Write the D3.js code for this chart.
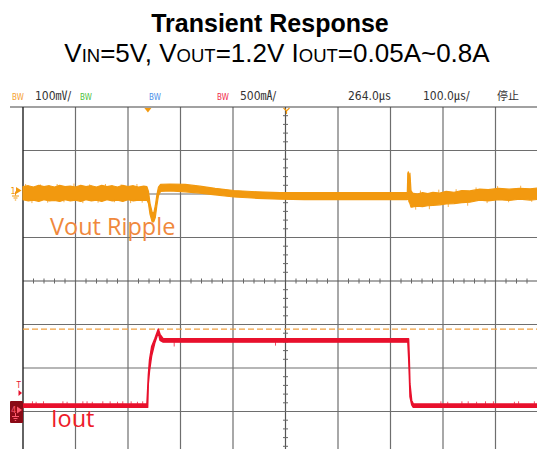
<!DOCTYPE html>
<html><head><meta charset="utf-8">
<script src="https://cdn.jsdelivr.net/npm/d3@7"></script>
<style>
html,body{margin:0;padding:0;background:#fff;}
svg{display:block;}
</style></head><body>
<svg id="chart" width="537" height="449"></svg>
<script>
// Scope settings: time in µs from the trigger (100 µs/div, 264 µs delay)
const timeRange = [-236, 764];
const ch1PerDiv = 100;   // mV/div, Vout (AC view around 1.2 V)
const ch4PerDiv = 0.5;   // A/div, Iout
const triggerLevel = 0.93; // A

// Header readouts
const headerLabels = ["BW", "100㎷/", "BW", "BW", "BW", "500㎃/", "264.0㎲", "100.0㎲/", "停止"];

// Vout deviation band: time (µs), upper and lower edge (mV)
const voutT  = [-236,-226,-216,-206,-196,-186,-176,-166,-156,-146,-136,-126,-116,-106,-96,-86,-76,-66,-56,-46,-36,-26,-16,-6,0,
                3,6,10,13,16,19,22,26,
                44,73,101,130,166,210,254,300,350,400,450,496,
                497,498,499,501,503,
                506,515,525,535,545,558,570,585,600,615,634,650,670,690,710,730,750,764];
const voutHi = [9,11,8,12,9,11,8,12,9,10,8,12,9,11,8,12,9,11,8,12,9,11,8,10,9,
                -2,-30,-50,-52,-35,-10,8,14,
                15,14,10,5,0,-3,-5,-5,-5,-5,-5,-5,
                40,43,20,40,0,
                -6,-8,-5,-7,-4,-6,-2,-4,0,-1,3,2,5,3,5,4,6,5];
const voutLo = [-21,-24,-22,-25,-21,-24,-23,-25,-21,-24,-22,-25,-21,-24,-22,-25,-21,-24,-22,-25,-21,-24,-22,-23,-22,
                -30,-55,-72,-72,-62,-35,-12,-2,
                -1,-3,-6,-10,-15,-18,-20,-21,-21,-21,-21,-21,
                -20,-10,-25,-30,-38,
                -38,-36,-37,-35,-34,-33,-31,-30,-28,-27,-22,-24,-21,-23,-20,-22,-20,-21];

// Vout noise spikes: time (µs), from (mV), to (mV)
const vSpikeT = [-231,-219,-203,-189,-171,-158,-139,-122,-109,-93,-79,-62,-49,-31,-19,-9,
                 512,521,538,556,574,589,611,627,648,668,689,712,733,752];
const vSpikeA = [8,-21,8,-21,8,-21,8,-21,8,-21,8,-21,8,-21,8,-21,
                 -34,-8,-34,-5,-30,-4,-28,0,-22,3,-21,4,-20,5];
const vSpikeB = [15,-29,14,-28,15,-27,16,-29,14,-28,15,-27,14,-29,15,-28,
                 -44,0,-43,2,-38,3,-35,7,-29,10,-27,11,-26,12];

// Iout band: time (µs), upper and lower edge (A)
const ioutT  = [-236,0,1.5,2.7,5,9,15,21.7,25,31,497,498.5,499.8,501.1,504.4,507.4,764];
const ioutHi = [0.07,0.07,0.25,0.40,0.58,0.73,0.82,0.93,0.87,0.82,0.82,0.82,0.60,0.30,0.11,0.07,0.07];
const ioutLo = [0.03,0.03,0.03,0.30,0.45,0.62,0.77,0.89,0.80,0.78,0.78,0.60,0.40,0.15,0.06,0.03,0.03];

// Iout noise spikes: time (µs), from (A), to (A)
const iSpikeT = [-218,-211,-197,-160,-152,-122,-114,-104,-84,-70,-56,-46,-30,-18,-8,52,245,
                 560,573,600,612,628,645,660,700,708,738];
const iSpikeA = [0.07,0.07,0.07,0.07,0.07,0.07,0.07,0.07,0.07,0.07,0.07,0.07,0.07,0.07,0.07,0.78,0.78,
                 0.07,0.07,0.07,0.07,0.07,0.07,0.07,0.07,0.07,0.07];
const iSpikeB = [0.10,0.095,0.10,0.10,0.095,0.10,0.10,0.095,0.10,0.10,0.095,0.10,0.10,0.095,0.10,0.73,0.74,
                 0.10,0.095,0.10,0.10,0.095,0.10,0.10,0.095,0.10,0.10];

const titleText = "Transient Response";
const subtitleParts = [["V",0],["IN",1],["=5V, ",0],["V",0],["OUT",1],["=1.2V ",0],["I",0],["OUT",1],["=0.05A~0.8A",0]];

// ---- layout ----
const W = 537, H = 449;
const gLeft = 23, gTop = 107, divX = 52.5, divY = 43.5;
const ORANGE = "#f2990f", RED = "#e8102c";

const svg = d3.select("#chart");
svg.append("rect").attr("width", W).attr("height", H).attr("fill", "#fff");

const xT = d3.scaleLinear().domain(timeRange).range([gLeft, gLeft + 10 * divX]);
const yDiv = d3.scaleLinear().domain([0, 8]).range([gTop, gTop + 8 * divY]);
const yV = d3.scaleLinear().domain([0, ch1PerDiv]).range([190.5, 190.5 - divY]);
const yI = d3.scaleLinear().domain([0, ch4PerDiv]).range([410, 410 - divY]);

// ---- graticule ----
const grid = svg.append("g");
const vTimes = d3.range(timeRange[0] + 100, timeRange[1], 100);
grid.selectAll(".gv").data(vTimes).join("line")
  .attr("x1", d => xT(d)).attr("x2", d => xT(d))
  .attr("y1", gTop).attr("y2", H)
  .attr("stroke", (d, i) => i === 4 ? "#555" : "#6e6e6e").attr("stroke-width", 1.2);
grid.selectAll(".gh").data(d3.range(1, 8)).join("line")
  .attr("x1", gLeft).attr("x2", W)
  .attr("y1", d => yDiv(d)).attr("y2", d => yDiv(d))
  .attr("stroke", (d) => d === 4 ? "#555" : "#6e6e6e").attr("stroke-width", 1.2);
// top rule and left border
grid.append("line").attr("x1", 10).attr("x2", W).attr("y1", gTop).attr("y2", gTop)
  .attr("stroke", "#444").attr("stroke-width", 1.2);
grid.append("line").attr("x1", gLeft).attr("x2", gLeft).attr("y1", gTop).attr("y2", H)
  .attr("stroke", "#222").attr("stroke-width", 1.4);

// minor ticks on the centre lines
const cx = xT(264), cy = yDiv(4);
const minorX = d3.range(timeRange[0], timeRange[1], 20).filter(t => (t - timeRange[0]) % 100 !== 0);
grid.selectAll(".mx").data(minorX).join("line")
  .attr("x1", d => xT(d)).attr("x2", d => xT(d))
  .attr("y1", cy - 2.5).attr("y2", cy + 2.5)
  .attr("stroke", "#666").attr("stroke-width", 1);
const minorY = d3.range(0, 8, 0.2).filter(v => Math.abs(v - Math.round(v)) > 0.01);
grid.selectAll(".my").data(minorY).join("line")
  .attr("x1", cx - 2.5).attr("x2", cx + 2.5)
  .attr("y1", d => yDiv(d)).attr("y2", d => yDiv(d))
  .attr("stroke", "#666").attr("stroke-width", 1);

// trigger level
svg.append("line").attr("x1", gLeft).attr("x2", W)
  .attr("y1", yI(triggerLevel)).attr("y2", yI(triggerLevel))
  .attr("stroke", "#f0a040").attr("stroke-width", 1.2).attr("stroke-dasharray", "6,3");

// ---- traces ----
const vData = voutT.map((t, i) => ({t, hi: voutHi[i], lo: voutLo[i]}));
const iData = ioutT.map((t, i) => ({t, hi: ioutHi[i], lo: ioutLo[i]}));

svg.append("g").selectAll("line").data(vSpikeT).join("line")
  .attr("x1", d => xT(d)).attr("x2", d => xT(d))
  .attr("y1", (d, i) => yV(vSpikeA[i])).attr("y2", (d, i) => yV(vSpikeB[i]))
  .attr("stroke", "#f6b04a").attr("stroke-width", 1);

svg.append("path").datum(vData)
  .attr("d", d3.area().x(d => xT(d.t)).y0(d => yV(d.lo)).y1(d => yV(d.hi)))
  .attr("fill", ORANGE).attr("stroke", ORANGE).attr("stroke-width", 1.2).attr("stroke-linejoin", "round");

svg.append("g").selectAll("line").data(iSpikeT).join("line")
  .attr("x1", d => xT(d)).attr("x2", d => xT(d))
  .attr("y1", (d, i) => yI(iSpikeA[i])).attr("y2", (d, i) => yI(iSpikeB[i]))
  .attr("stroke", "#ef4a62").attr("stroke-width", 1);

svg.append("path").datum(iData)
  .attr("d", d3.area().x(d => xT(d.t)).y0(d => yI(d.lo)).y1(d => yI(d.hi)))
  .attr("fill", RED).attr("stroke", RED).attr("stroke-width", 1.4).attr("stroke-linejoin", "round");

// ---- markers ----
const mk = svg.append("g");
// trigger position
mk.append("path").attr("d", `M${xT(0) - 2.5},${gTop + 1} L${xT(0) + 4.5},${gTop + 1} L${xT(0) + 1},${gTop + 5.5} Z`)
  .attr("fill", ORANGE);
// delay marker at screen centre
mk.append("path").attr("d", `M${cx - 2},${gTop + 1} L${cx + 1},${gTop + 4} L${cx + 4},${gTop + 1} M${cx + 1},${gTop + 4} L${cx + 1},${gTop + 7}`)
  .attr("fill", "none").attr("stroke", ORANGE).attr("stroke-width", 1.2);

// channel 1 reference
const r1 = yV(0);
mk.append("text").attr("x", 10.5).attr("y", r1 + 3.5).text("1")
  .attr("font-family", "DejaVu Sans Condensed, DejaVu Sans").attr("font-size", 9).attr("fill", ORANGE);
mk.append("path").attr("d", `M16,${r1 - 3.5} L21.5,${r1} L16,${r1 + 3.5} Z`).attr("fill", ORANGE);
mk.append("path").attr("d", `M15.5,${r1 + 1} L15.5,${r1 + 5} M12,${r1 + 5.5} L19,${r1 + 5.5} M13.5,${r1 + 7.5} L17.5,${r1 + 7.5} M14.8,${r1 + 9.5} L16.2,${r1 + 9.5}`)
  .attr("stroke", ORANGE).attr("stroke-width", 1).attr("fill", "none");

// channel 4 reference
const r4 = yI(0);
mk.append("rect").attr("x", 10).attr("y", r4 - 9).attr("width", 13).attr("height", 22)
  .attr("fill", "#8a0a16").attr("rx", 1);
mk.append("text").attr("x", 11).attr("y", r4 + 3).text("4")
  .attr("font-family", "DejaVu Sans Condensed, DejaVu Sans").attr("font-size", 9).attr("fill", "#ff5a6e");
mk.append("path").attr("d", `M17,${r4 - 3.5} L22,${r4} L17,${r4 + 3.5} Z`).attr("fill", "#ff5a6e");
mk.append("path").attr("d", `M15.5,${r4 + 3} L15.5,${r4 + 6} M12,${r4 + 6.5} L19,${r4 + 6.5} M13.5,${r4 + 8.5} L17.5,${r4 + 8.5} M14.8,${r4 + 10.5} L16.2,${r4 + 10.5}`)
  .attr("stroke", "#ff5a6e").attr("stroke-width", 1).attr("fill", "none");

// trigger channel tag
mk.append("text").attr("x", 16.5).attr("y", yI(0.3) + 4).text("T")
  .attr("font-family", "DejaVu Sans Condensed, DejaVu Sans").attr("font-size", 8).attr("fill", RED);
mk.append("path").attr("d", `M18.5,${yI(0.3) + 6} L22,${yI(0.3) + 9} L18.5,${yI(0.3) + 12} Z`).attr("fill", RED);

// ---- header readouts ----
const headerX = [12, 35, 80, 149, 217, 240, 348, 423, 497];
const headerColors = ["#f5a030", "#333", "#4cbf3c", "#4a8ee8", "#f0284a", "#333", "#333", "#333", "#333"];
const headerSize = [8, 12, 8, 8, 8, 12, 12, 12, 11];
svg.append("g").selectAll("text").data(headerLabels).join("text")
  .attr("x", (d, i) => headerX[i]).attr("y", 100)
  .attr("font-family", "DejaVu Sans Condensed, DejaVu Sans, Noto Sans CJK SC")
  .attr("font-size", (d, i) => headerSize[i])
  .attr("fill", (d, i) => headerColors[i])
  .text(d => d);

// ---- annotations ----
svg.append("text").attr("x", 50).attr("y", 235).text("Vout Ripple")
  .attr("font-family", "Open Sans").attr("font-size", 23.5).attr("fill", "#f0883c");
svg.append("text").attr("x", 51).attr("y", 427).text("Iout")
  .attr("font-family", "Open Sans").attr("font-size", 23.5).attr("fill", "#ee1c2a");

// ---- titles ----
svg.append("text").attr("x", 270).attr("y", 32).attr("text-anchor", "middle")
  .attr("font-family", "Liberation Sans, Arial, sans-serif").attr("font-weight", "bold")
  .attr("font-size", 25).attr("fill", "#000").text(titleText);
const sub = svg.append("text").attr("x", 277).attr("y", 62).attr("text-anchor", "middle")
  .attr("font-family", "Liberation Sans, Arial, sans-serif").attr("font-size", 26).attr("fill", "#000");
sub.selectAll("tspan").data(subtitleParts).join("tspan")
  .attr("font-size", d => d[1] ? 18.5 : 26)
  .text(d => d[0]);
</script>
</body></html>
